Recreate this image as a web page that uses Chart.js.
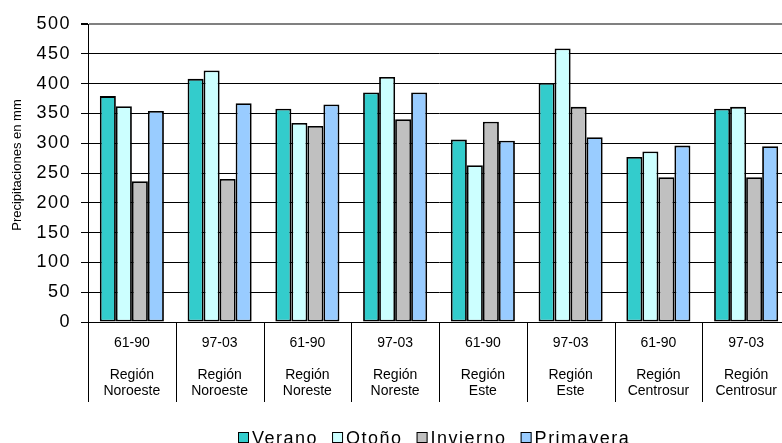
<!DOCTYPE html>
<html lang="es">
<head>
<meta charset="utf-8">
<title>Precipitaciones por estación</title>
<script src="https://cdn.jsdelivr.net/npm/chart.js@4/dist/chart.umd.min.js"></script>
<style>
  html, body { margin: 0; padding: 0; background: #fff; overflow: hidden; }
  #wrap { width: 868px; height: 443px; }
  canvas { display: block; }
</style>
</head>
<body>
<div id="wrap"><canvas id="chart" width="868" height="443"></canvas></div>
<script>
// Periodos y regiones (eje de categorías)
const periods = ['61-90', '97-03', '61-90', '97-03', '61-90', '97-03', '61-90', '97-03'];
const regions = ['Noroeste', 'Noroeste', 'Noreste', 'Noreste', 'Este', 'Este', 'Centrosur', 'Centrosur'];

// Precipitaciones estacionales (mm)
const verano    = [379, 408, 358, 385, 306, 401, 277, 358];
const otono     = [362, 422, 334, 411, 263, 459, 286, 361];
const invierno  = [236, 240, 329, 340, 336, 361, 243, 243];
const primavera = [354, 367, 365, 385, 304, 310, 296, 295];

const seriesNames = ['Verano', 'Otoño', 'Invierno', 'Primavera'];
const seriesColors = ['#33CCCC', '#CCFFFF', '#C0C0C0', '#99CCFF'];
const yTitle = 'Precipitaciones en mm';

const FONT = '"Liberation Sans", Arial, Helvetica, sans-serif';

// Etiquetas de varias líneas: periodo, línea vacía, "Región", nombre
const labels = periods.map((p, i) => [p, '', 'Región', regions[i]]);

const seriesValues = [verano, otono, invierno, primavera];
const datasets = seriesValues.map((vals, i) => ({
  label: seriesNames[i],
  data: vals,
  backgroundColor: seriesColors[i],
  borderColor: '#000000',
  borderWidth: 1.8,
  borderSkipped: false,
  categoryPercentage: 0.73,
  barPercentage: 1.0
}));

// Las cifras del eje Y se dibujan después de las barras, con algo más de espaciado
const tickSpacing = {
  id: 'tickSpacing',
  afterDatasetsDraw(chart) { chart.ctx.letterSpacing = '1.5px'; },
  afterDraw(chart) { chart.ctx.letterSpacing = '0px'; }
};

// Separadores verticales bajo el eje X, título del eje Y y leyenda inferior
const decorations = {
  id: 'decorations',
  afterDraw(chart) {
    const ctx = chart.ctx;
    const xs = chart.scales.x;
    const area = chart.chartArea;
    const n = xs.ticks.length;
    const step = xs.width / n;

    ctx.save();
    ctx.letterSpacing = '0px';
    ctx.strokeStyle = '#000000';
    ctx.lineWidth = 1;
    for (let i = 0; i <= n; i++) {
      const px = Math.round(xs.left + i * step) + 0.5;
      ctx.beginPath();
      ctx.moveTo(px, xs.top);
      ctx.lineTo(px, xs.bottom);
      ctx.stroke();
    }
    ctx.restore();

    // Título vertical del eje Y
    ctx.save();
    ctx.letterSpacing = '0px';
    ctx.font = '13px ' + FONT;
    ctx.fillStyle = '#000000';
    ctx.textAlign = 'center';
    ctx.textBaseline = 'middle';
    ctx.translate(17, (area.top + area.bottom) / 2 - 8);
    ctx.rotate(-Math.PI / 2);
    ctx.fillText(yTitle, 0, 0);
    ctx.restore();

    // Leyenda
    ctx.save();
    ctx.font = '18px ' + FONT;
    ctx.letterSpacing = '1.5px';
    ctx.textBaseline = 'alphabetic';
    ctx.textAlign = 'left';
    const box = 11, gapBox = 3, gapItem = 14;
    const widths = chart.data.datasets.map(d => ctx.measureText(d.label).width);
    const total = widths.reduce((a, w) => a + box + gapBox + w, 0) + gapItem * (widths.length - 1);
    let x = Math.round((chart.width - total) / 2);
    const boxTop = chart.height - 11;
    const baseline = chart.height + 1;
    chart.data.datasets.forEach((d, i) => {
      ctx.fillStyle = d.backgroundColor;
      ctx.fillRect(x, boxTop, box, box);
      ctx.strokeStyle = '#000000';
      ctx.lineWidth = 1;
      ctx.strokeRect(x + 0.5, boxTop + 0.5, box - 1, box - 1);
      ctx.fillStyle = '#000000';
      ctx.fillText(d.label, x + box + gapBox, baseline);
      x += box + gapBox + widths[i] + gapItem;
    });
    ctx.restore();
  }
};

new Chart(document.getElementById('chart'), {
  type: 'bar',
  data: { labels, datasets },
  options: {
    responsive: false,
    animation: false,
    layout: { padding: { top: 24, right: 78, bottom: 41, left: 0 } },
    plugins: {
      legend: { display: false },
      tooltip: { enabled: false },
      title: { display: false }
    },
    scales: {
      x: {
        offset: true,
        grid: { display: false, drawTicks: false },
        border: { display: true, color: '#000000', width: 1 },
        ticks: {
          color: '#000000',
          font: { family: FONT, size: 14, lineHeight: 1.143 },
          padding: 13,
          maxRotation: 0,
          autoSkip: false
        },
        afterFit(scale) { scale.height = 80; }
      },
      y: {
        min: 0,
        max: 500,
        ticks: {
          stepSize: 50,
          color: '#000000',
          font: { family: FONT, size: 18 },
          padding: 10,
          z: 1
        },
        grid: {
          color: (c) => (c.tick && c.tick.value === 500) ? '#808080' : '#000000',
          lineWidth: (c) => (c.tick && c.tick.value === 500) ? 2 : 1,
          tickColor: '#000000',
          tickLength: 7,
          drawTicks: true
        },
        border: { display: true, color: '#000000', width: 1 },
        afterFit(scale) { scale.width = 88; }
      }
    }
  },
  plugins: [tickSpacing, decorations]
});
</script>
</body>
</html>
